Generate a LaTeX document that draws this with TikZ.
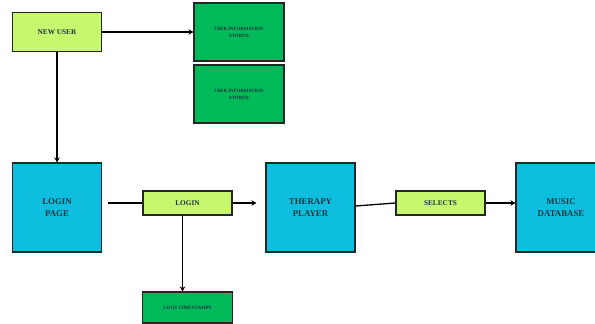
\documentclass[tikz,border=0pt]{standalone}
\usepackage{fontspec}
\setmainfont{Liberation Serif}
\usetikzlibrary{arrows.meta}
\definecolor{lgreen}{HTML}{C6F76E}
\definecolor{dgreen}{HTML}{00BA5A}
\definecolor{cyanbox}{HTML}{0EBEDF}
\definecolor{txt}{HTML}{1E3440}
\tikzset{
  box/.style={draw=black!85, line width=1.1pt, text=txt, align=center, inner sep=0pt, font=\bfseries},
  lgbox/.style={box, fill=lgreen, minimum width=89pt, minimum height=24pt, font=\bfseries\fontsize{7.3}{8}\selectfont},
  dgbox/.style={box, fill=dgreen, minimum width=90pt, minimum height=58pt, font=\bfseries\fontsize{4.8}{7}\selectfont},
  bigbox/.style={box, fill=cyanbox, minimum width=89pt, minimum height=89pt, font=\bfseries\fontsize{8.8}{12.5}\selectfont},
  conn/.style={line width=1.3pt, black},
  arr/.style={conn, -{Stealth[length=5pt,width=5.5pt]}}
}
\begin{document}
\begin{tikzpicture}[x=1pt,y=-1pt]
\useasboundingbox (0,0) rectangle (595,324);
\begin{scope}
\clip (0,0) rectangle (595,324);
\node[lgbox, minimum height=39pt] (nu) at (57,32) {NEW USER};
\node[dgbox] (s1) at (239,32) {USER INFORMATION\\STORED};
\node[dgbox] (s2) at (239,94) {USER INFORMATION\\STORED};
\node[bigbox] (lp) at (57,207.5) {LOGIN\\PAGE};
\node[lgbox] (login) at (187.5,203) {LOGIN};
\node[bigbox] (tp) at (310.5,207.5) {THERAPY\\PLAYER};
\node[lgbox] (sel) at (440.5,203) {SELECTS};
\node[bigbox, minimum width=90pt] (md) at (561,207.5) {MUSIC\\DATABASE};
\node[dgbox, minimum height=31pt, font=\bfseries\fontsize{5}{6}\selectfont] (logs) at (187.5,307.5) {LOGS TIMESTAMPS};
\draw[arr] (nu.east) -- (s1.west |- nu.east);
\draw[arr] (nu.south) -- (lp.north);
\draw[conn, shorten <=6pt] (lp.east |- login.west) -- (login.west);
\draw[arr, shorten >=9pt] (login.east) -- (tp.west |- login.east);
\draw[conn] ([yshift=1.5pt]tp.east) -- (sel.west);
\draw[arr] (sel.east) -- (md.west |- sel.east);
\draw[arr] ([xshift=-5pt]login.south) -- ([xshift=-5pt]logs.north);
\end{scope}
\end{tikzpicture}
\end{document}
